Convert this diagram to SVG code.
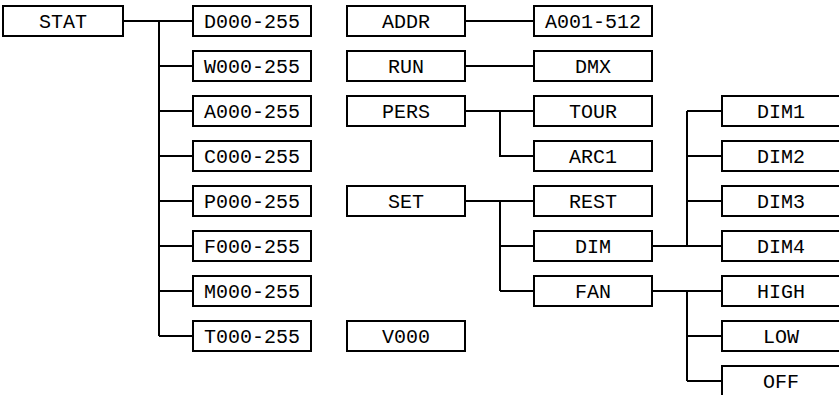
<svg xmlns="http://www.w3.org/2000/svg" width="839" height="395" viewBox="0 0 839 395">
<style>
.box{fill:#fff;stroke:#000;stroke-width:2}
.t{font-family:"Liberation Mono","DejaVu Sans Mono",monospace;font-size:20px;fill:#000;text-anchor:middle}
.c{fill:none;stroke:#000;stroke-width:2}
</style>
<rect width="839" height="395" fill="#fff"/>
<g id="connectors" class="c">
<path d="M123 21H193M159 21V336M159 66H193M159 111H193M159 156H193M159 201H193M159 246H193M159 291H193M159 336H193"/>
<path d="M465 21H534M465 66H534"/>
<path d="M465 111H534M500 111V156H534"/>
<path d="M465 201H534M500 201V291M500 246H534M500 291H534"/>
<path d="M652 246H722M687 111V246M687 111H722M687 156H722M687 201H722"/>
<path d="M652 291H722M687 291V381M687 336H722M687 381H722"/>
</g>
<g id="STAT"><rect class="box" x="3" y="6" width="120" height="30"/><text class="t" x="63" y="28">STAT</text></g>
<g id="D000"><rect class="box" x="193" y="6" width="118" height="30"/><text class="t" x="252" y="28">D000-255</text></g>
<g id="W000"><rect class="box" x="193" y="51" width="118" height="30"/><text class="t" x="252" y="73">W000-255</text></g>
<g id="A000"><rect class="box" x="193" y="96" width="118" height="30"/><text class="t" x="252" y="118">A000-255</text></g>
<g id="C000"><rect class="box" x="193" y="141" width="118" height="30"/><text class="t" x="252" y="163">C000-255</text></g>
<g id="P000"><rect class="box" x="193" y="186" width="118" height="30"/><text class="t" x="252" y="208">P000-255</text></g>
<g id="F000"><rect class="box" x="193" y="231" width="118" height="30"/><text class="t" x="252" y="253">F000-255</text></g>
<g id="M000"><rect class="box" x="193" y="276" width="118" height="30"/><text class="t" x="252" y="298">M000-255</text></g>
<g id="T000"><rect class="box" x="193" y="321" width="118" height="30"/><text class="t" x="252" y="343">T000-255</text></g>
<g id="ADDR"><rect class="box" x="347" y="6" width="118" height="30"/><text class="t" x="406" y="28">ADDR</text></g>
<g id="RUN"><rect class="box" x="347" y="51" width="118" height="30"/><text class="t" x="406" y="73">RUN</text></g>
<g id="PERS"><rect class="box" x="347" y="96" width="118" height="30"/><text class="t" x="406" y="118">PERS</text></g>
<g id="SET"><rect class="box" x="347" y="186" width="118" height="30"/><text class="t" x="406" y="208">SET</text></g>
<g id="V000"><rect class="box" x="347" y="321" width="118" height="30"/><text class="t" x="406" y="343">V000</text></g>
<g id="A001"><rect class="box" x="534" y="6" width="118" height="30"/><text class="t" x="593" y="28">A001-512</text></g>
<g id="DMX"><rect class="box" x="534" y="51" width="118" height="30"/><text class="t" x="593" y="73">DMX</text></g>
<g id="TOUR"><rect class="box" x="534" y="96" width="118" height="30"/><text class="t" x="593" y="118">TOUR</text></g>
<g id="ARC1"><rect class="box" x="534" y="141" width="118" height="30"/><text class="t" x="593" y="163">ARC1</text></g>
<g id="REST"><rect class="box" x="534" y="186" width="118" height="30"/><text class="t" x="593" y="208">REST</text></g>
<g id="DIM"><rect class="box" x="534" y="231" width="118" height="30"/><text class="t" x="593" y="253">DIM</text></g>
<g id="FAN"><rect class="box" x="534" y="276" width="118" height="30"/><text class="t" x="593" y="298">FAN</text></g>
<g id="DIM1"><rect class="box" x="722" y="96" width="120" height="30"/><text class="t" x="781" y="118">DIM1</text></g>
<g id="DIM2"><rect class="box" x="722" y="141" width="120" height="30"/><text class="t" x="781" y="163">DIM2</text></g>
<g id="DIM3"><rect class="box" x="722" y="186" width="120" height="30"/><text class="t" x="781" y="208">DIM3</text></g>
<g id="DIM4"><rect class="box" x="722" y="231" width="120" height="30"/><text class="t" x="781" y="253">DIM4</text></g>
<g id="HIGH"><rect class="box" x="722" y="276" width="120" height="30"/><text class="t" x="781" y="298">HIGH</text></g>
<g id="LOW"><rect class="box" x="722" y="321" width="120" height="30"/><text class="t" x="781" y="343">LOW</text></g>
<g id="OFF"><rect class="box" x="722" y="366" width="120" height="30"/><text class="t" x="781" y="388">OFF</text></g>
</svg>
